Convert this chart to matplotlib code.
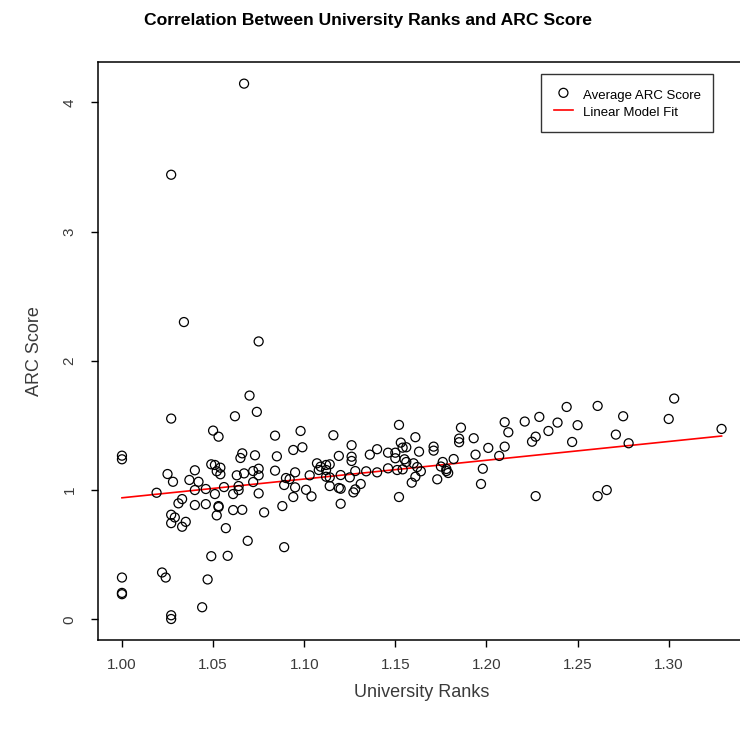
import numpy as np
import matplotlib
matplotlib.use("Agg")
import matplotlib.pyplot as plt

plt.rcParams['font.family'] = ['Liberation Sans', 'DejaVu Sans']

# university rank ratio vs average ARC score
university_ranks = [
    1.000, 1.000, 1.000, 1.000, 1.000,
    1.019, 1.022, 1.024, 1.025, 1.027, 1.029, 1.027, 1.027, 1.027, 1.027,
    1.027, 1.028, 1.031, 1.033, 1.034, 1.033, 1.035, 1.037, 1.040, 1.040,
    1.040, 1.042, 1.044, 1.046, 1.046, 1.047, 1.049, 1.049, 1.050, 1.051,
    1.051, 1.052, 1.052, 1.053, 1.053, 1.053, 1.054, 1.054, 1.056, 1.057,
    1.058, 1.061, 1.061, 1.062, 1.063, 1.064, 1.064, 1.065, 1.066, 1.066,
    1.067, 1.067, 1.069, 1.070, 1.072, 1.072, 1.073, 1.074, 1.075, 1.075,
    1.075, 1.075, 1.078,
    1.084, 1.084, 1.085, 1.088, 1.089, 1.089, 1.090, 1.092, 1.094, 1.094,
    1.095, 1.095, 1.098, 1.099, 1.101, 1.103, 1.104, 1.107, 1.108, 1.109,
    1.112, 1.112, 1.112, 1.114, 1.114, 1.114, 1.116, 1.119, 1.119, 1.120,
    1.120, 1.120, 1.125, 1.126, 1.126, 1.126, 1.127, 1.128, 1.128, 1.131,
    1.134, 1.136, 1.140, 1.140, 1.146, 1.146, 1.150, 1.150, 1.151, 1.152,
    1.152, 1.153, 1.154, 1.154, 1.155, 1.156, 1.156, 1.159, 1.160, 1.161,
    1.161, 1.162, 1.163, 1.164,
    1.171, 1.171, 1.173, 1.176, 1.175, 1.178, 1.178, 1.179, 1.182, 1.185,
    1.185, 1.186, 1.193, 1.194, 1.197, 1.198, 1.201, 1.207, 1.210, 1.210,
    1.212, 1.221, 1.225, 1.227, 1.227, 1.229, 1.234, 1.239, 1.244, 1.247,
    1.250, 1.261, 1.261, 1.266, 1.271, 1.275, 1.278, 1.300, 1.303, 1.329,
]
arc_scores = [
    1.266, 1.238, 0.323, 0.204, 0.194,
    0.979, 0.362, 0.323, 1.124, 0.809, 0.788, 0.744, 1.553, 3.440, 0.031,
    0.002, 1.064, 0.897, 0.930, 2.300, 0.716, 0.754, 1.078, 1.153, 1.000,
    0.884, 1.064, 0.093, 0.891, 1.008, 0.308, 1.199, 0.488, 1.460, 1.194,
    0.969, 1.145, 0.804, 0.876, 0.868, 1.413, 1.173, 1.122, 1.023, 0.705,
    0.491, 0.969, 0.845, 1.571, 1.114, 1.031, 1.000, 1.248, 1.284, 0.847,
    1.129, 4.145, 0.607, 1.731, 1.062, 1.147, 1.269, 1.605, 0.974, 1.165,
    2.150, 1.114, 0.827,
    1.421, 1.150, 1.261, 0.876, 1.039, 0.558, 1.093, 1.085, 0.946, 1.310,
    1.137, 1.021, 1.457, 1.331, 1.002, 1.114, 0.951, 1.207, 1.155, 1.181,
    1.155, 1.103, 1.194, 1.199, 1.098, 1.031, 1.424, 1.264, 1.016, 1.116,
    1.010, 0.894, 1.098, 1.347, 1.258, 1.225, 0.982, 1.005, 1.147, 1.047,
    1.145, 1.274, 1.316, 1.137, 1.289, 1.168, 1.246, 1.289, 1.155, 1.504,
    0.946, 1.367, 1.328, 1.160, 1.238, 1.217, 1.331, 1.057, 1.207, 1.103,
    1.409, 1.178, 1.297, 1.145,
    1.336, 1.305, 1.083, 1.217, 1.182, 1.163, 1.147, 1.132, 1.240, 1.398,
    1.370, 1.483, 1.401, 1.274, 1.047, 1.165, 1.326, 1.264, 1.336, 1.525,
    1.447, 1.530, 1.374, 1.413, 0.953, 1.566, 1.457, 1.522, 1.643, 1.372,
    1.502, 1.651, 0.953, 1.000, 1.429, 1.571, 1.362, 1.550, 1.708, 1.473,
]

# fitted line as drawn in the original (endpoints at min / max rank)
fit_ranks = [1.000, 1.329]
fit_scores = [0.940, 1.418]

fig = plt.figure(figsize=(7.4, 7.32), dpi=100)
ax = fig.add_axes([0.1324, 0.1251, 0.8751, 0.7899])

ax.scatter(university_ranks, arc_scores, s=42, facecolors='none',
           edgecolors='black', linewidths=0.9,
           label='Average ARC Score', zorder=3)
ax.plot(fit_ranks, fit_scores, color='#ff0000', lw=1.2,
        label='Linear Model Fit', zorder=2)

ax.margins(0.04)
ax.set_xticks([1.00, 1.05, 1.10, 1.15, 1.20, 1.25, 1.30])
ax.set_xticklabels(['1.00', '1.05', '1.10', '1.15', '1.20', '1.25', '1.30'])
ax.set_yticks([0, 1, 2, 3, 4])
for lab in ax.get_yticklabels():
    lab.set_rotation(90)
    lab.set_va('center')

ax.tick_params(axis='both', length=5, width=1, color='black', labelsize=11,
               labelcolor='#3a3a3a')
ax.tick_params(axis='x', pad=8)
ax.tick_params(axis='y', pad=10.5)
for sp in ax.spines.values():
    sp.set_linewidth(1.1)

ax.set_xlabel('University Ranks', fontsize=13, color='#3a3a3a', labelpad=8)
ax.set_ylabel('ARC Score', fontsize=13, color='#3a3a3a', labelpad=14)

fig.text(0.497, 1 - 20 / 732, 'Correlation Between University Ranks and ARC Score',
         ha='center', va='center', fontsize=12.6, fontweight='bold')

leg = ax.legend(loc='upper left', bbox_to_anchor=(541 / 740, 1 - 74 / 732),
                bbox_transform=fig.transFigure, fontsize=9.5, frameon=True,
                fancybox=False, edgecolor='black', borderpad=0.95,
                handlelength=1.5, handleheight=1.4, handletextpad=0.7,
                labelspacing=0.15, borderaxespad=0)
leg.get_frame().set_linewidth(1.0)

fig.savefig('out.png', dpi=100)
